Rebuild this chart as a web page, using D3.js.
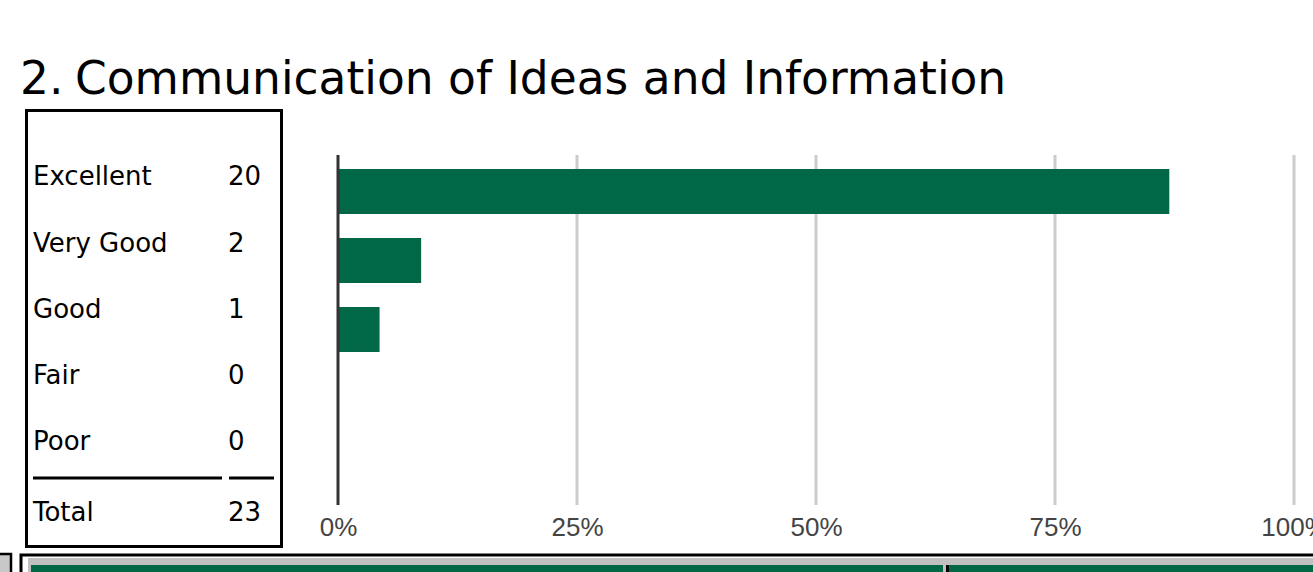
<!DOCTYPE html>
<html>
<head>
<meta charset="utf-8">
<script src="https://cdn.jsdelivr.net/npm/d3@7"></script>
<style>
  body { margin: 0; background: #fff; }
  svg { display: block; }
</style>
</head>
<body>
<div id="chart"></div>
<script>
// data
var categories = ["Excellent", "Very Good", "Good", "Fair", "Poor"];
var counts = [20, 2, 1, 0, 0];
var tickValues = [0, 0.25, 0.5, 0.75, 1];
var titleNum = "2.";
var titleText = "Communication of Ideas and Information";

var total = d3.sum(counts);

var svg = d3.select("#chart").append("svg")
    .attr("width", 1313)
    .attr("height", 572);

// title
svg.append("text")
    .attr("x", 20)
    .attr("y", 94)
    .style("font-family", "DejaVu Sans, Verdana, sans-serif")
    .style("font-size", "45.5px")
    .style("fill", "#000")
    .text(titleNum);
svg.append("text")
    .attr("x", 75)
    .attr("y", 94)
    .style("font-family", "DejaVu Sans, Verdana, sans-serif")
    .style("font-size", "45.5px")
    .style("fill", "#000")
    .text(titleText);

// left table
var table = svg.append("g");
table.append("rect")
    .attr("x", 26.5).attr("y", 110.5)
    .attr("width", 255).attr("height", 436)
    .style("fill", "none")
    .style("stroke", "#000")
    .style("stroke-width", 3);

var rowY = d3.scalePoint().domain(categories).range([176, 441]);

var rows = table.selectAll(".row")
    .data(categories)
    .enter().append("g")
    .attr("class", "row")
    .attr("transform", function(d) { return "translate(0," + rowY(d) + ")"; });

rows.append("text")
    .attr("x", 33).attr("dy", "0.36em")
    .style("font-family", "DejaVu Sans, Verdana, sans-serif")
    .style("font-size", "26px")
    .text(function(d) { return d; });
rows.append("text")
    .attr("x", 228).attr("dy", "0.36em")
    .style("font-family", "DejaVu Sans, Verdana, sans-serif")
    .style("font-size", "26px")
    .text(function(d, i) { return counts[i]; });

table.append("line")
    .attr("x1", 33).attr("x2", 222).attr("y1", 478).attr("y2", 478)
    .style("stroke", "#000").style("stroke-width", 3);
table.append("line")
    .attr("x1", 229).attr("x2", 274).attr("y1", 478).attr("y2", 478)
    .style("stroke", "#000").style("stroke-width", 3);

table.append("text")
    .attr("x", 33).attr("y", 512).attr("dy", "0.36em")
    .style("font-family", "DejaVu Sans, Verdana, sans-serif")
    .style("font-size", "26px")
    .text("Total");
table.append("text")
    .attr("x", 228).attr("y", 512).attr("dy", "0.36em")
    .style("font-family", "DejaVu Sans, Verdana, sans-serif")
    .style("font-size", "26px")
    .text(total);

// bar chart
var x = d3.scaleLinear().domain([0, 1]).range([338, 1294]);
var y = d3.scaleBand().domain(categories).range([157, 502]).paddingInner(0.348).paddingOuter(0.174);

var plotTop = 155, plotBottom = 505;

svg.selectAll(".grid")
    .data(tickValues.slice(1))
    .enter().append("line")
    .attr("class", "grid")
    .attr("x1", function(d) { return x(d); })
    .attr("x2", function(d) { return x(d); })
    .attr("y1", plotTop).attr("y2", plotBottom)
    .style("stroke", "#cccccc")
    .style("stroke-width", 3);

svg.selectAll(".bar")
    .data(categories)
    .enter().append("rect")
    .attr("class", "bar")
    .attr("x", x(0))
    .attr("y", function(d) { return y(d); })
    .attr("width", function(d, i) { return x(counts[i] / total) - x(0); })
    .attr("height", y.bandwidth())
    .style("fill", "#006747");

svg.append("line")
    .attr("x1", x(0)).attr("x2", x(0))
    .attr("y1", plotTop).attr("y2", plotBottom)
    .style("stroke", "#333")
    .style("stroke-width", 3);

// axis labels
var axis = d3.axisBottom(x)
    .tickValues(tickValues)
    .tickFormat(d3.format(".0%"))
    .tickSize(0)
    .tickPadding(0);

var axisG = svg.append("g")
    .attr("transform", "translate(0,527)")
    .call(axis);
axisG.select(".domain").remove();
axisG.selectAll("text")
    .attr("dy", "0.36em")
    .style("font-family", "Liberation Sans, Arial, sans-serif")
    .style("font-size", "26px")
    .style("fill", "#444");

// start of the next panel below
var lower = svg.append("g");
lower.append("rect")
    .attr("x", -5).attr("y", 554).attr("width", 16).attr("height", 30)
    .style("fill", "#c8c8c8").style("stroke", "#000").style("stroke-width", 2.5);
lower.append("rect")
    .attr("x", 21).attr("y", 555).attr("width", 1300).attr("height", 30)
    .style("fill", "#fff").style("stroke", "#000").style("stroke-width", 3);
lower.append("rect")
    .attr("x", 28).attr("y", 558).attr("width", 1290).attr("height", 20)
    .style("fill", "#c0c0c0");
lower.append("rect")
    .attr("x", 31).attr("y", 565).attr("width", 912).attr("height", 10)
    .style("fill", "#006747");
lower.append("rect")
    .attr("x", 949).attr("y", 565).attr("width", 370).attr("height", 10)
    .style("fill", "#006747");
lower.append("line")
    .attr("x1", 947.5).attr("x2", 947.5).attr("y1", 565).attr("y2", 572)
    .style("stroke", "#000").style("stroke-width", 3);
</script>
</body>
</html>
